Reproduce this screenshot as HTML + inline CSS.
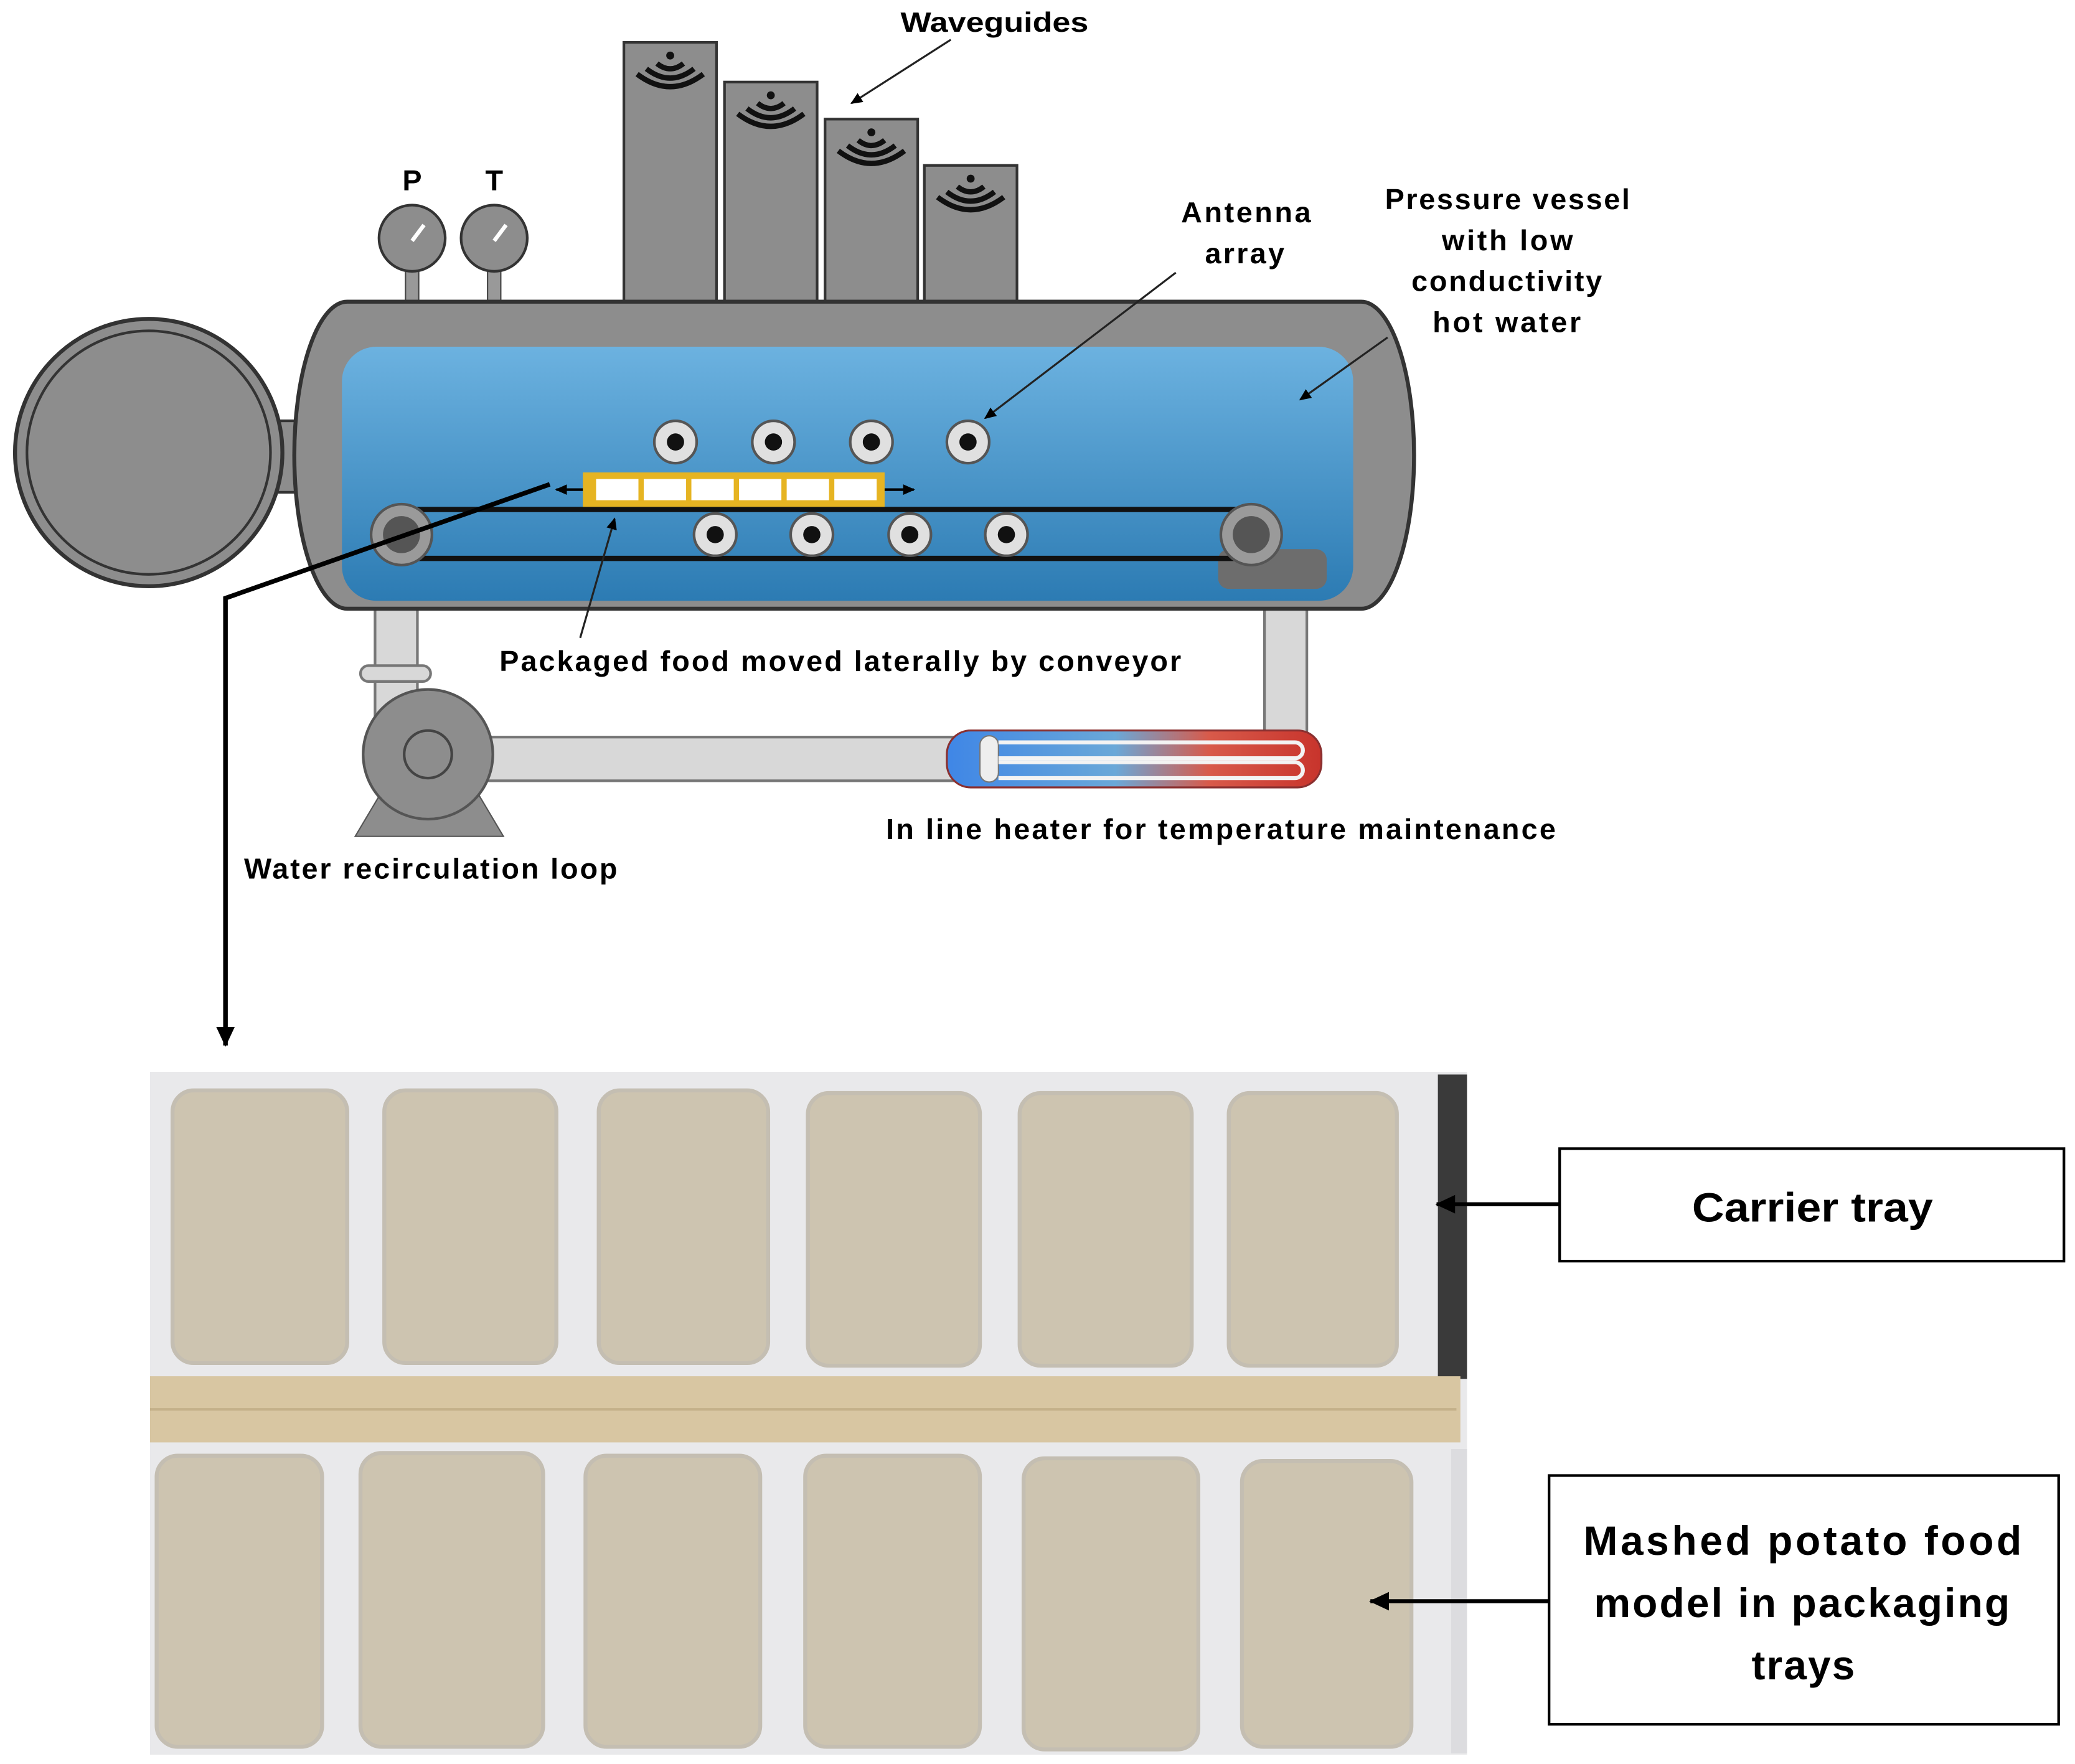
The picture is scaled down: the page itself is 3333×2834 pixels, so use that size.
<!DOCTYPE html>
<html><head><style>html,body{margin:0;padding:0;background:#fff}svg{display:block}</style></head><body>
<svg width="3333" height="2834" viewBox="0 0 1567 1333" xmlns="http://www.w3.org/2000/svg" font-family="Liberation Sans, sans-serif">
<defs>
<linearGradient id="bl" x1="0" y1="0" x2="0" y2="1"><stop offset="0" stop-color="#6cb2e0"/><stop offset="1" stop-color="#2c7bb3"/></linearGradient>
<linearGradient id="ht" x1="0" y1="0" x2="1" y2="0"><stop offset="0" stop-color="#3f86e6"/><stop offset="0.45" stop-color="#6aa8d8"/><stop offset="0.7" stop-color="#d85a4a"/><stop offset="1" stop-color="#c8342c"/></linearGradient>
<marker id="ar" markerWidth="10" markerHeight="10" refX="8" refY="5" orient="auto" markerUnits="userSpaceOnUse"><path d="M0,1 L9,5 L0,9 Z" fill="#000"/></marker>
<marker id="ar2" markerWidth="16" markerHeight="16" refX="14" refY="8" orient="auto" markerUnits="userSpaceOnUse"><path d="M0,1 L15,8 L0,15 Z" fill="#000"/></marker>
<g id="wave"><circle cx="0" cy="0" r="3" fill="#111"/><path d="M-10,6 Q0,14 10,6" stroke="#111" stroke-width="4" fill="none"/><path d="M-18,10 Q0,24 18,10" stroke="#111" stroke-width="4" fill="none"/><path d="M-25,14 Q0,33 25,14" stroke="#111" stroke-width="4" fill="none"/></g>
<g id="ant"><circle r="16" fill="#e0e0e0" stroke="#555" stroke-width="2"/><circle r="6.5" fill="#111"/></g>
</defs>
<rect width="1567" height="1333" fill="#fff"/>
<rect x="471" y="32" width="70" height="198" fill="#8d8d8d" stroke="#333" stroke-width="2"/>
<rect x="547" y="62" width="70" height="168" fill="#8d8d8d" stroke="#333" stroke-width="2"/>
<rect x="623" y="90" width="70" height="140" fill="#8d8d8d" stroke="#333" stroke-width="2"/>
<rect x="698" y="125" width="70" height="105" fill="#8d8d8d" stroke="#333" stroke-width="2"/>
<use href="#wave" x="506" y="42"/><use href="#wave" x="582" y="72"/><use href="#wave" x="658" y="100"/><use href="#wave" x="733" y="135"/>
<text x="680" y="24" font-size="21" font-weight="bold" textLength="142" lengthAdjust="spacingAndGlyphs">Waveguides</text>
<line x1="718" y1="30" x2="643" y2="78" stroke="#222" stroke-width="1.5" marker-end="url(#ar)"/>
<rect x="306" y="200" width="10" height="30" fill="#999" stroke="#444"/>
<rect x="368" y="200" width="10" height="30" fill="#999" stroke="#444"/>
<circle cx="311" cy="180" r="25" fill="#8d8d8d" stroke="#333" stroke-width="2"/>
<circle cx="373" cy="180" r="25" fill="#8d8d8d" stroke="#333" stroke-width="2"/>
<line x1="311" y1="182" x2="320" y2="170" stroke="#fff" stroke-width="3"/>
<line x1="373" y1="182" x2="382" y2="170" stroke="#fff" stroke-width="3"/>
<text x="311" y="144" font-size="22" font-weight="bold" text-anchor="middle">P</text>
<text x="373" y="144" font-size="22" font-weight="bold" text-anchor="middle">T</text>
<rect x="200" y="318" width="26" height="54" fill="#8d8d8d" stroke="#333" stroke-width="2"/>
<circle cx="112" cy="342" r="101" fill="#8d8d8d" stroke="#333" stroke-width="3"/>
<circle cx="112" cy="342" r="92" fill="none" stroke="#333" stroke-width="2"/>
<rect x="283" y="455" width="32" height="90" fill="#d8d8d8" stroke="#777" stroke-width="2"/>
<rect x="272" y="503" width="53" height="12" rx="6" fill="#d8d8d8" stroke="#777" stroke-width="2"/>
<rect x="955" y="455" width="32" height="100" fill="#d8d8d8" stroke="#777" stroke-width="2"/>
<rect x="360" y="557" width="365" height="33" fill="#d8d8d8" stroke="#777" stroke-width="2"/>
<rect x="222" y="228" width="846" height="232" rx="40" ry="116" fill="#8d8d8d" stroke="#333" stroke-width="3"/>
<rect x="258" y="262" width="764" height="192" rx="26" fill="url(#bl)"/>
<rect x="920" y="415" width="82" height="30" rx="8" fill="#6d6d6d"/>
<line x1="305" y1="385" x2="945" y2="385" stroke="#111" stroke-width="4"/>
<line x1="305" y1="422" x2="945" y2="422" stroke="#111" stroke-width="4"/>
<circle cx="303" cy="404" r="23" fill="#9a9a9a" stroke="#555" stroke-width="2"/><circle cx="303" cy="404" r="14" fill="#555"/>
<circle cx="945" cy="404" r="23" fill="#9a9a9a" stroke="#555" stroke-width="2"/><circle cx="945" cy="404" r="14" fill="#555"/>
<use href="#ant" x="510" y="334"/><use href="#ant" x="584" y="334"/><use href="#ant" x="658" y="334"/><use href="#ant" x="731" y="334"/>
<use href="#ant" x="540" y="404"/><use href="#ant" x="613" y="404"/><use href="#ant" x="687" y="404"/><use href="#ant" x="760" y="404"/>
<rect x="440" y="357" width="228" height="26" fill="#e6b422"/>
<g fill="#fff"><rect x="450" y="362" width="32" height="16"/><rect x="486" y="362" width="32" height="16"/><rect x="522" y="362" width="32" height="16"/><rect x="558" y="362" width="32" height="16"/><rect x="594" y="362" width="32" height="16"/><rect x="630" y="362" width="32" height="16"/></g>
<line x1="440" y1="370" x2="420" y2="370" stroke="#000" stroke-width="2" marker-end="url(#ar)"/>
<line x1="668" y1="370" x2="690" y2="370" stroke="#000" stroke-width="2" marker-end="url(#ar)"/>
<path d="M268,632 L380,632 L358,595 L290,595 Z" fill="#8d8d8d" stroke="#555"/>
<circle cx="323" cy="570" r="49" fill="#8d8d8d" stroke="#555" stroke-width="2"/>
<circle cx="323" cy="570" r="18" fill="#8d8d8d" stroke="#444" stroke-width="2"/>
<rect x="715" y="552" width="283" height="43" rx="18" fill="url(#ht)" stroke="#8a3030" stroke-width="1.5"/>
<rect x="740" y="556" width="14" height="35" rx="7" fill="#eee" stroke="#777"/>
<path d="M754,561 H978 a6,6 0 0 1 0,12 H754" fill="none" stroke="#f3f3f3" stroke-width="3"/>
<path d="M754,576 H978 a6,6 0 0 1 0,12 H754" fill="none" stroke="#f3f3f3" stroke-width="3"/>
<g font-size="22" font-weight="bold" lengthAdjust="spacingAndGlyphs">
<text x="892" y="168" textLength="98">Antenna</text>
<text x="910" y="199" textLength="60">array</text>
<text x="1046" y="158" textLength="185">Pressure vessel</text>
<text x="1089" y="189" textLength="99">with low</text>
<text x="1066" y="220" textLength="144">conductivity</text>
<text x="1082" y="251" textLength="112">hot water</text>
<text x="377" y="507" textLength="515">Packaged food moved laterally by conveyor</text>
<text x="669" y="634" textLength="506">In line heater for temperature maintenance</text>
<text x="184" y="664" textLength="282">Water recirculation loop</text>
</g>
<line x1="888" y1="206" x2="744" y2="316" stroke="#222" stroke-width="1.5" marker-end="url(#ar)"/>
<line x1="1048" y1="255" x2="982" y2="302" stroke="#222" stroke-width="1.5" marker-end="url(#ar)"/>
<line x1="438" y1="482" x2="464" y2="392" stroke="#222" stroke-width="1.5" marker-end="url(#ar)"/>
<polyline points="415,366 170,452 170,790" fill="none" stroke="#000" stroke-width="3.5" marker-end="url(#ar2)"/>
<rect x="113" y="810" width="995" height="516" fill="#e9e9eb"/>
<rect x="1086" y="812" width="22" height="230" fill="#3a3a3a"/>
<rect x="1096" y="1095" width="12" height="230" fill="#dcdcdf"/>
<g fill="#cdc4b0" stroke="#c4beb2" stroke-width="3">
<rect x="130" y="824" width="132" height="206" rx="16"/><rect x="290" y="824" width="130" height="206" rx="16"/><rect x="452" y="824" width="128" height="206" rx="16"/><rect x="610" y="826" width="130" height="206" rx="16"/><rect x="770" y="826" width="130" height="206" rx="16"/><rect x="928" y="826" width="127" height="206" rx="16"/>
<rect x="118" y="1100" width="125" height="220" rx="16"/><rect x="272" y="1098" width="138" height="222" rx="16"/><rect x="442" y="1100" width="132" height="220" rx="16"/><rect x="608" y="1100" width="132" height="220" rx="16"/><rect x="773" y="1102" width="132" height="220" rx="16"/><rect x="938" y="1104" width="128" height="216" rx="16"/>
</g>
<rect x="113" y="1040" width="990" height="50" fill="#d8c6a2"/>
<line x1="113" y1="1065" x2="1100" y2="1065" stroke="#c4b08a" stroke-width="2"/>
<rect x="1178" y="868" width="381" height="85" fill="#fff" stroke="#000" stroke-width="2"/>
<text x="1278" y="923" font-size="31" font-weight="bold" textLength="182" lengthAdjust="spacingAndGlyphs">Carrier tray</text>
<line x1="1178" y1="910" x2="1085" y2="910" stroke="#000" stroke-width="3" marker-end="url(#ar2)"/>
<rect x="1170" y="1115" width="385" height="188" fill="#fff" stroke="#000" stroke-width="2"/>
<g font-size="31" font-weight="bold" lengthAdjust="spacingAndGlyphs"><text x="1196" y="1175" textLength="331">Mashed potato food</text><text x="1204" y="1222" textLength="314">model in packaging</text><text x="1323" y="1269" textLength="78">trays</text></g>
<line x1="1170" y1="1210" x2="1035" y2="1210" stroke="#000" stroke-width="3" marker-end="url(#ar2)"/>
</svg>
</body></html>
